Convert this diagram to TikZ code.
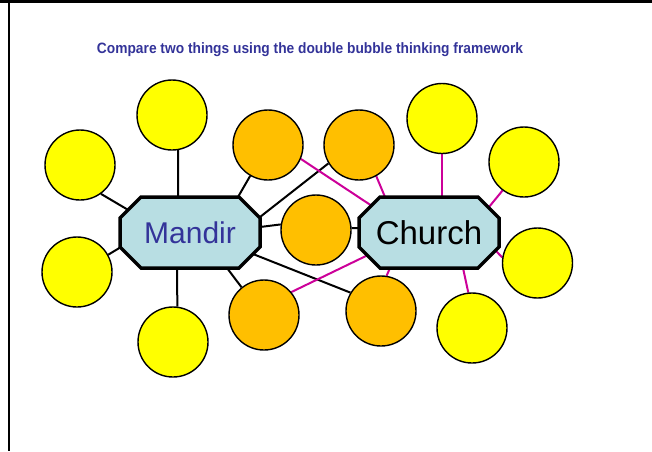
\documentclass[tikz,border=0pt]{standalone}
\usepackage{fontspec}
\setmainfont{Liberation Sans}
\usetikzlibrary{backgrounds}
\definecolor{ttl}{RGB}{51,51,153}
\definecolor{boxblue}{RGB}{184,222,227}
\definecolor{orangefill}{RGB}{255,191,0}
\definecolor{yellowfill}{RGB}{255,255,0}
\definecolor{mag}{RGB}{204,0,153}
\begin{document}
\begin{tikzpicture}[x=1pt,y=-1pt,
  yb/.style={circle,draw=black,line width=1.4pt,fill=yellowfill,minimum size=70pt,inner sep=0pt},
  ob/.style={circle,draw=black,line width=1.4pt,fill=orangefill,minimum size=70pt,inner sep=0pt},
  octline/.style={draw=black,line width=3.5pt,fill=boxblue,line join=miter},
  blk/.style={draw=black,line width=2pt},
  mg/.style={draw=mag,line width=2pt},
  frame/.style={draw=black}
]
\useasboundingbox (0,0) rectangle (652,451);
\coordinate (fTL) at (0,1.5);
\coordinate (fTR) at (652,1.5);
\coordinate (fLT) at (9,0);
\coordinate (fLB) at (9,451);
\draw[frame,line width=3pt] (fTL) -- (fTR);
\draw[frame,line width=2pt] (fLT) -- (fLB);

\node[anchor=base,text=ttl,inner sep=0pt] (title) at (310,53)
  {\resizebox{426pt}{\height}{\fontsize{15}{18}\selectfont\bfseries Compare two things using the double bubble thinking framework}};

% central octagons
\coordinate (Mc) at (190,232.5);
\coordinate (Cc) at (429,232.5);
\draw[octline] (Mc) ++(-49,-35.5) -- ++(98,0) -- ++(21,21) -- ++(0,29) -- ++(-21,21) -- ++(-98,0) -- ++(-21,-21) -- ++(0,-29) -- cycle;
\draw[octline] (Cc) ++(-49,-35.5) -- ++(98,0) -- ++(21,21) -- ++(0,29) -- ++(-21,21) -- ++(-98,0) -- ++(-21,-21) -- ++(0,-29) -- cycle;
\node[text=ttl,font=\fontsize{30}{36}\selectfont,inner sep=0pt] (M) at (Mc) {Mandir};
\node[text=black,font=\fontsize{33}{40}\selectfont,inner sep=0pt] (C) at (Cc) {Church};

% connector ends on the octagons
\coordinate (mY1) at (178,197);
\coordinate (mY2) at (128.1,209.9);
\coordinate (mY3) at (121,247);
\coordinate (mY4) at (177,268);
\coordinate (mO1) at (238,197);
\coordinate (mO2) at (260,217);
\coordinate (mO3) at (260,227);
\coordinate (mO4) at (227,268);
\coordinate (mO5) at (253,254);
\coordinate (cY5) at (442,197);
\coordinate (cY6) at (489,207);
\coordinate (cY7) at (495,250);
\coordinate (cY8) at (463,268);
\coordinate (cO1) at (372,206);
\coordinate (cO2) at (385,197);
\coordinate (cO3) at (359,228);
\coordinate (cO4) at (368,255);
\coordinate (cO5) at (390,268);

% yellow bubbles
\node[yb] (Y1) at (172,115) {};
\node[yb] (Y2) at (80,165) {};
\node[yb] (Y3) at (77,272) {};
\node[yb] (Y4) at (173,342) {};
\node[yb] (Y5) at (442,118.5) {};
\node[yb] (Y6) at (524,162) {};
\node[yb] (Y7) at (537.5,263) {};
\node[yb] (Y8) at (472,328) {};

% orange bubbles
\node[ob] (O1) at (268,145) {};
\node[ob] (O2) at (359,145) {};
\node[ob] (O3) at (316,230) {};
\node[ob] (O4) at (264,315) {};
\node[ob] (O5) at (381,311) {};

\begin{pgfonlayer}{background}
% Mandir connectors
\draw[blk] (Y1.-80.3) -- (mY1);
\draw[blk] (Y2.-54.1) -- (mY2);
\draw[blk] (Y3.29.1) -- (mY3);
\draw[blk] (Y4.83.5) -- (mY4);
\draw[blk] (O1.-120.1) -- (mO1);
\draw[blk] (O2.-149.9) -- (mO2);
\draw[blk] (O3.171.6) -- (mO3);
\draw[blk] (O4.129.2) -- (mO4);
\draw[blk] (O5.149.9) -- (mO5);
% Church connectors
\draw[blk] (O3.3) -- (cO3);
\draw[mg] (O1.-23.4) -- (cO1);
\draw[mg] (O2.-61.3) -- (cO2);
\draw[mg] (O4.40.2) -- (cO4);
\draw[mg] (O5.81.9) -- (cO5);
\draw[mg] (Y5.-90) -- (cY5);
\draw[mg] (Y6.-127.9) -- (cY6);
\draw[mg] (Y7.171.8) -- (cY7);
\draw[mg] (Y8.96.5) -- (cY8);
\end{pgfonlayer}
\end{tikzpicture}
\end{document}
